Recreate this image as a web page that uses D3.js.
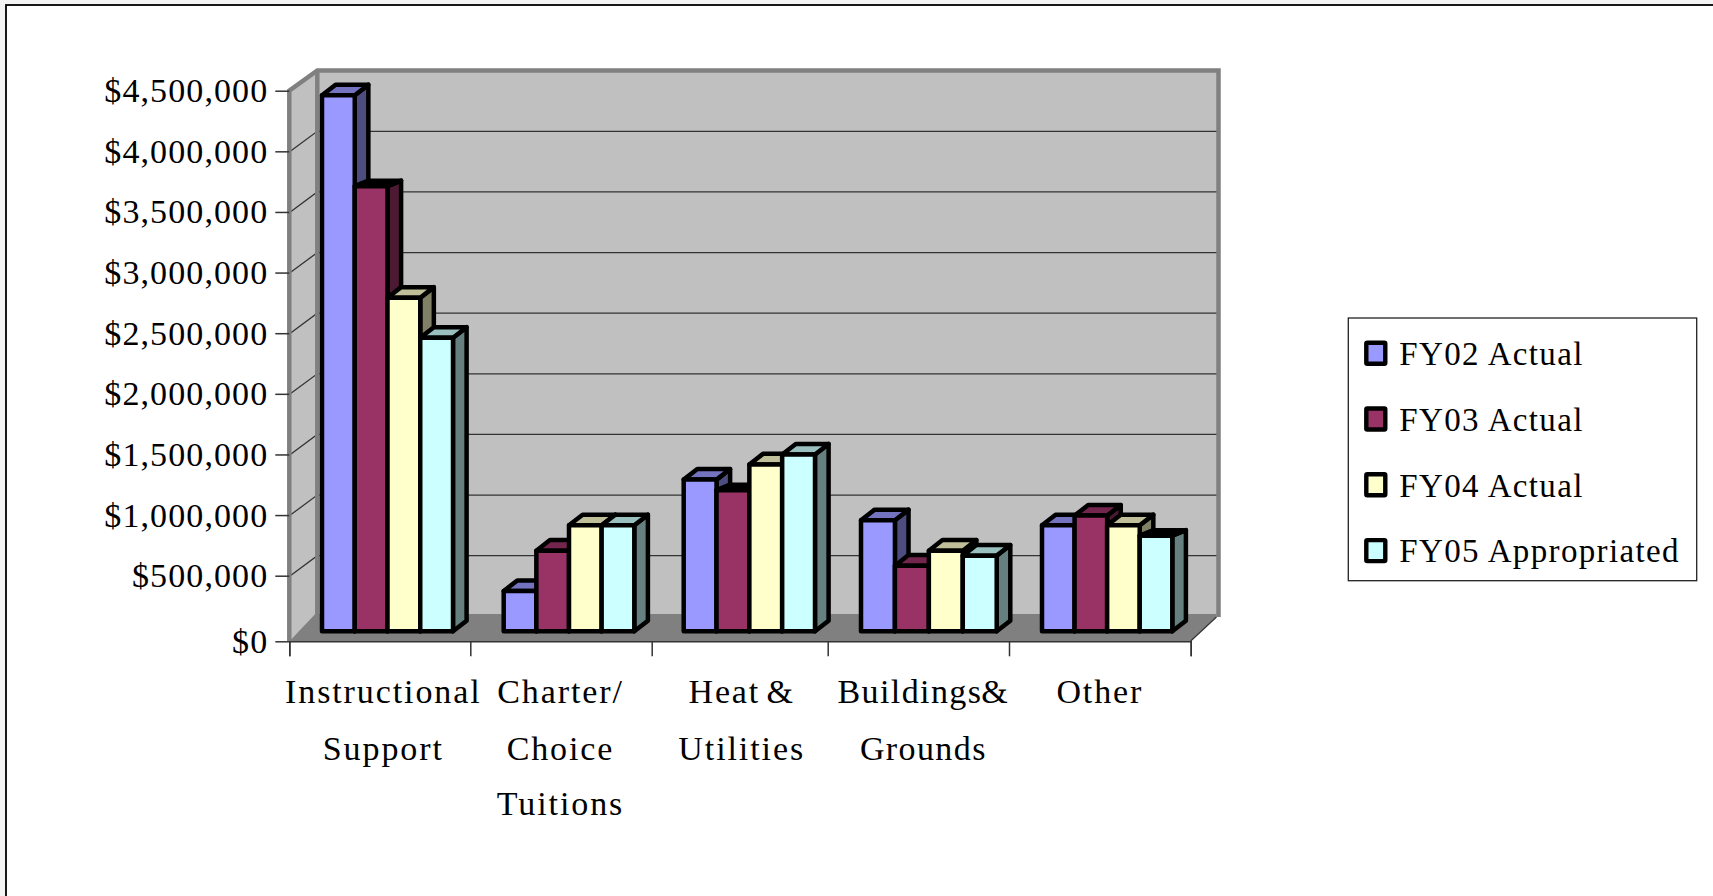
<!DOCTYPE html>
<html>
<head>
<meta charset="utf-8">
<script src="https://cdn.jsdelivr.net/npm/d3@7"></script>
<style>
html,body{margin:0;padding:0;background:#f4f4f4;overflow:hidden}
svg{display:block}
text{font-family:"Liberation Serif",serif;fill:#000}
</style>
</head>
<body>
<svg id="c" width="1713" height="896"></svg>
<script>
const categories = [["Instructional","Support"],["Charter/","Choice","Tuitions"],["Heat &","Utilities"],["Buildings &","Grounds"],["Other"]];
const seriesNames = ["FY02 Actual","FY03 Actual","FY04 Actual","FY05 Appropriated"];
const seriesColors = ["#9999ff","#993366","#ffffcc","#ccffff"];
const fy02 = [4380000,307000,1210000,875000,833000];
const fy03 = [3630000,624000,1123000,500000,913000];
const fy04 = [2710000,833000,1335000,624000,833000];
const fy05 = [2380000,833000,1417000,583000,748000];
const allSeries = [fy02,fy03,fy04,fy05];
const yTicks = [0,500000,1000000,1500000,2000000,2500000,3000000,3500000,4000000,4500000];
// top faces that print solid black and shallow in the reference: [category, series]
const blackTops = [[0,1],[2,1],[4,3]];

const svg = d3.select("#c");
// page panel
svg.append("rect").attr("x",6).attr("y",5).attr("width",1730).attr("height",920)
  .attr("fill","#fff").attr("stroke","#000").attr("stroke-width",1.8);

const y = d3.scaleLinear().domain([0,500000,4500000]).range([641.3,575.7,90.7]);
const xTick = d3.scaleLinear().domain(d3.range(6)).range([289.3,470.3,651.7,827.7,1009,1190.7]);
const xLeft = d3.scaleLinear().domain(d3.range(5)).range([322,503.7,683.7,861,1042]);
const xRight = d3.scaleLinear().domain(d3.range(5)).range([453,634.3,815,996.7,1172.3]);
const wallDX = 28, wallDY = -20;
const barDX = 13.6, barDY = -10.6, barShift = -10, blackDY = -5.5;
const poly = pts => pts.map(p=>p.join(",")).join(" ");
const wallRight = 1218.5;

// walls
const plot = svg.append("g");
plot.append("polygon").attr("points",poly([[xTick(0),y(4500000)],[xTick(0)+wallDX,70.5],[xTick(0)+wallDX,614],[xTick(0),641]])).attr("fill","#c0c0c0");
plot.append("rect").attr("x",xTick(0)+wallDX).attr("y",70.5).attr("width",wallRight-xTick(0)-wallDX).attr("height",545).attr("fill","#c0c0c0");

// gridlines
yTicks.slice(1,-1).forEach(v=>{
  plot.append("polyline").attr("fill","none").attr("stroke","#333").attr("stroke-width",1.3)
    .attr("points",poly([[xTick(0)+1,y(v)],[xTick(0)+wallDX,y(v)+wallDY],[wallRight,y(v)+wallDY]]));
});

// floor
plot.append("polygon").attr("points",poly([[xTick(0),641.3],[xTick(0)+wallDX-2,614],[wallRight-2,614],[wallRight-2,617],[xTick(5),641.3]])).attr("fill","#808080");

// wall edges
plot.append("polyline").attr("fill","none").attr("stroke","#808080").attr("stroke-width",4.5).attr("stroke-linejoin","miter")
  .attr("points",poly([[xTick(0),641],[xTick(0),y(4500000)],[xTick(0)+wallDX,70.5],[wallRight,70.5],[wallRight,617]]));
plot.append("line").attr("x1",xTick(0)+wallDX).attr("x2",xTick(0)+wallDX).attr("y1",70.5).attr("y2",614).attr("stroke","#808080").attr("stroke-width",4.5);
plot.append("line").attr("x1",xTick(5)).attr("y1",641).attr("x2",wallRight-2).attr("y2",617).attr("stroke","#333").attr("stroke-width",1.2);

// axes
const yAxis = d3.axisLeft(y).tickValues(yTicks).tickFormat(d3.format("$,")).tickSize(14).tickPadding(7);
const gy = svg.append("g").attr("transform",`translate(${xTick(0)},0)`).call(yAxis);
gy.select(".domain").remove();
gy.selectAll(".tick line").attr("stroke","#333").attr("stroke-width",1.5);
gy.selectAll(".tick text").attr("font-family","Liberation Serif").attr("font-size",34).attr("letter-spacing",1.1).attr("dy",null).attr("y",11).attr("fill","#000");

const xAxis = d3.axisBottom(xTick).tickValues(d3.range(6)).tickFormat("").tickSize(15);
const gx = svg.append("g").attr("transform","translate(0,641.3)").call(xAxis);
gx.select(".domain").attr("stroke","#333").attr("stroke-width",1.5);
gx.selectAll(".tick line").attr("stroke","#333").attr("stroke-width",1.5);

// category labels
const lineBase = [702.8,760,815];
const labelShift = [2.5,-1.5,1,4,-1];
const labelWordSpacing = [0,0,-4,-11,0];
const labelTracking = [1.9,1.9,1.9,1.4,1.9];
const cats = svg.append("g").selectAll("g").data(categories).join("g");
cats.each(function(lines,i){
  d3.select(this).selectAll("text").data(lines).join("text")
    .attr("x",(xTick(i)+xTick(i+1))/2+1+labelShift[i]).attr("y",(d,j)=>lineBase[j])
    .attr("text-anchor","middle").attr("font-size",34).attr("letter-spacing",labelTracking[i])
    .attr("word-spacing",labelWordSpacing[i]).text(d=>d);
});

// bars
const shade = (c,k)=>{const r=d3.rgb(c);return d3.rgb(r.r*k,r.g*k,r.b*k).formatHex();};
categories.forEach((cat,i)=>{
  const band = d3.scaleBand().domain(d3.range(4)).range([xLeft(i),xRight(i)]);
  const g = svg.append("g");
  allSeries.forEach((vals,s)=>{
    const x0 = band(s), x1 = x0+band.bandwidth();
    const t = y(vals[i])+barShift, b = y(0)+barShift;
    const black = blackTops.some(p=>p[0]===i&&p[1]===s);
    const dy = black ? blackDY : barDY;
    const bar = g.append("g").attr("stroke","#000").attr("stroke-width",4.5).attr("stroke-linejoin","round");
    bar.append("polygon").attr("fill",shade(seriesColors[s],0.5))
      .attr("points",poly([[x1,t],[x1+barDX,t+dy],[x1+barDX,b+barDY],[x1,b]]));
    bar.append("polygon").attr("fill",black?"#000":shade(seriesColors[s],0.75))
      .attr("points",poly([[x0,t],[x0+barDX,t+dy],[x1+barDX,t+dy],[x1,t]]));
    bar.append("rect").attr("x",x0).attr("y",t).attr("width",x1-x0).attr("height",b-t).attr("fill",seriesColors[s]);
  });
});

// legend
const legend = svg.append("g");
legend.append("rect").attr("x",1348.3).attr("y",318).attr("width",348.4).attr("height",262.7)
  .attr("fill","#fff").attr("stroke","#222").attr("stroke-width",1.3);
const legendY = d3.scaleLinear().domain([0,3]).range([365,562.4]);
seriesNames.forEach((n,s)=>{
  legend.append("rect").attr("x",1366.3).attr("y",legendY(s)-22.3).attr("width",19).attr("height",21)
    .attr("fill",seriesColors[s]).attr("stroke","#000").attr("stroke-width",4.4).attr("rx",1);
  legend.append("text").attr("x",1399.3).attr("y",legendY(s)).attr("font-size",33).attr("letter-spacing",1.35).text(n);
});
</script>
</body>
</html>
